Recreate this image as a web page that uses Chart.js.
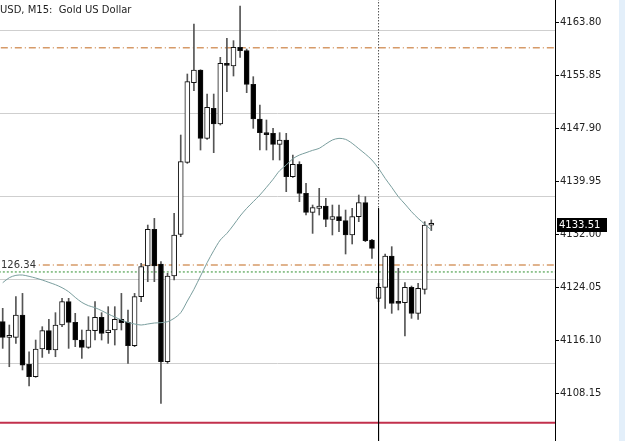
<!DOCTYPE html>
<html><head><meta charset="utf-8">
<script src="https://cdn.jsdelivr.net/npm/chart.js@4.4.1/dist/chart.umd.min.js"></script>
<style>html,body{margin:0;padding:0;background:#fff;overflow:hidden}#wrap{width:625px;height:441px;position:relative}</style>
</head><body><div id="wrap"><canvas id="c" width="625" height="441"></canvas></div>
<script>
const opens = [4118.95,4116.60,4116.60,4119.95,4112.55,4110.71,4114.85,4117.60,4114.70,4118.45,
4121.95,4118.85,4116.20,4115.10,4117.60,4119.60,4117.30,4117.70,4119.30,4118.85,
4115.35,4122.70,4127.29,4132.78,4127.59,4112.95,4125.79,4132.04,4142.82,4154.76,
4156.66,4146.42,4150.92,4148.57,4157.66,4157.26,4160.06,4159.56,4154.51,4149.32,
4147.27,4147.17,4145.52,4146.17,4140.68,4142.52,4138.18,4135.33,4135.93,4136.28,
4134.28,4134.68,4134.08,4131.94,4134.68,4136.78,4131.19,4122.45,4124.09,4128.79,
4121.84,4121.79,4124.09,4120.20,4123.79,4133.40];
const highs = [4120.95,4118.45,4122.70,4123.19,4114.45,4116.20,4118.20,4119.30,4120.30,4122.45,
4122.45,4120.20,4117.70,4119.70,4121.95,4120.30,4121.20,4121.20,4123.19,4120.70,
4123.19,4127.69,4133.43,4134.43,4127.94,4126.19,4135.18,4146.92,4156.06,4163.55,
4156.70,4153.06,4153.06,4158.56,4161.41,4161.06,4166.25,4159.80,4155.66,4151.42,
4149.17,4147.92,4147.27,4147.17,4143.92,4142.92,4139.68,4136.43,4138.93,4137.43,
4136.43,4136.43,4135.68,4135.93,4137.93,4137.68,4131.30,4124.69,4129.09,4130.19,
4126.94,4124.79,4124.29,4124.69,4133.93,4134.20];
const lows = [4114.95,4112.20,4115.70,4111.71,4109.31,4110.61,4113.60,4114.20,4113.70,4118.20,
4114.95,4115.20,4113.45,4114.95,4116.20,4116.20,4115.70,4115.45,4117.70,4112.70,
4115.20,4121.95,4124.94,4124.94,4106.71,4112.70,4125.19,4131.69,4142.67,4153.56,
4144.67,4146.27,4144.27,4148.42,4153.41,4155.76,4158.56,4153.26,4147.92,4144.67,
4144.67,4143.17,4143.17,4138.43,4140.58,4136.93,4134.93,4132.18,4134.93,4133.18,
4131.94,4132.43,4129.09,4130.59,4133.93,4130.94,4128.44,4121.95,4120.95,4120.20,
4120.70,4116.80,4119.45,4119.30,4123.09,4132.60];
const closes = [4116.60,4116.65,4119.95,4112.45,4110.71,4114.85,4117.60,4114.70,4118.45,4121.95,
4118.85,4116.20,4115.10,4117.70,4119.60,4117.20,4117.70,4119.30,4118.80,4115.35,
4122.70,4127.19,4132.78,4127.29,4112.95,4125.79,4131.94,4142.92,4154.91,4156.66,
4146.42,4151.07,4148.57,4157.66,4157.36,4160.06,4159.56,4154.51,4149.32,4147.27,
4146.97,4145.52,4146.17,4140.68,4142.52,4138.18,4135.33,4136.03,4136.28,4134.28,
4134.68,4134.08,4131.94,4134.68,4136.78,4131.09,4129.94,4124.09,4128.79,4121.70,
4121.70,4124.09,4120.20,4123.94,4133.43,4133.51];
const maValues = [4124.79,4125.54,4125.89,4125.94,4125.74,4125.49,4125.19,4124.84,4124.49,4124.04,
4123.44,4122.59,4121.84,4121.35,4121.05,4120.60,4120.10,4119.65,4119.20,4118.85,
4118.60,4118.45,4118.60,4118.75,4118.80,4118.95,4119.45,4120.30,4122.04,4123.79,
4125.79,4127.79,4129.59,4131.19,4132.18,4133.43,4134.78,4135.93,4136.93,4137.93,
4139.08,4140.28,4141.58,4142.42,4143.37,4143.92,4144.27,4144.62,4144.92,4145.57,
4146.17,4146.42,4146.27,4145.67,4144.87,4144.07,4143.17,4141.92,4140.43,4139.08,
4137.68,4136.58,4135.43,4134.43,4133.58,4132.68];
const yTicks = [4108.15,4116.10,4124.05,4132.00,4139.95,4147.90,4155.85,4163.80];
const gridLevels = [4112.71,4125.20,4137.68,4150.17,4162.65];
const dashDotLevels = [4160.00,4127.44];
const greenLevel = 4126.40;
const redLevel = 4103.81;
const cursorIndex = 57;
const cursorSplit = 4135.93;
const lastPrice = 4133.51;
const lineLabel = '126.34';
const titleText = 'USD, M15:  Gold US Dollar';

const Y_MIN = 4101.07, Y_MAX = 4167.15, X_MIN = -0.41, X_MAX = 83.76;

const idx = opens.map((_, i) => i);
const isBull = idx.map(i => closes[i] >= opens[i]);

function hLine(v, color, width, dash, order) {
  return { type: 'line', data: [{x: X_MIN - 2, y: v}, {x: X_MAX + 2, y: v}], borderColor: color,
    borderWidth: width, borderDash: dash, pointRadius: 0, order: order, clip: 0, yAxisID: 'y' };
}

const datasets = [
  hLine(dashDotLevels[0], '#d69a68', 1.5, [7,3,1,3], 10),
  hLine(dashDotLevels[1], '#d69a68', 1.5, [7,3,1,3], 10),
  hLine(greenLevel, '#2f8f2f', 1, [2,2], 10),
  hLine(redLevel, '#c2304c', 2, [], 10),
  { type: 'bar', data: idx.map(i => ({x: i, y: [lows[i], highs[i]]})), backgroundColor: '#555555',
    borderWidth: 0, barThickness: 1, grouped: false, order: 5, yAxisID: 'y' },
  { type: 'bar', data: idx.map(i => ({x: i, y: [opens[i], closes[i]]})),
    backgroundColor: idx.map(i => isBull[i] ? '#ffffff' : '#000000'), borderColor: '#111111',
    borderWidth: 1, borderSkipped: false, barThickness: 5, minBarLength: 2, grouped: false, order: 4, yAxisID: 'y' },
  { type: 'line', data: idx.map(i => ({x: i, y: maValues[i]})), borderColor: '#7a9e9e', borderWidth: 1,
    pointRadius: 0, tension: 0.3, order: 1, yAxisID: 'y' },
  { type: 'line', data: [{x: cursorIndex, y: Y_MAX + 1}, {x: cursorIndex, y: cursorSplit}], borderColor: '#000',
    borderWidth: 1, borderDash: [1,2], pointRadius: 0, order: 0, yAxisID: 'y' },
  { type: 'line', data: [{x: cursorIndex, y: cursorSplit}, {x: cursorIndex, y: Y_MIN - 1}], borderColor: '#000',
    borderWidth: 1, pointRadius: 0, order: 0, yAxisID: 'y' }
];

const decor = {
  id: 'decor',
  beforeDraw(chart) {
    const ctx = chart.ctx; ctx.save();
    ctx.fillStyle = '#ffffff'; ctx.fillRect(0, 0, 625, 441);
    ctx.fillStyle = '#e3effa'; ctx.fillRect(619, 0, 6, 441);
    ctx.restore();
  },
  afterDraw(chart) {
    const ctx = chart.ctx, y = chart.scales.y;
    ctx.save();
    ctx.font = '10px "DejaVu Sans"'; ctx.textBaseline = 'middle'; ctx.textAlign = 'left';
    ctx.fillStyle = '#1e1e1e';
    ctx.fillText(titleText, 0, 10);
    const ly = y.getPixelForValue(dashDotLevels[1]);
    ctx.fillStyle = '#ffffff'; ctx.fillRect(0, ly - 6, 36, 10);
    ctx.fillStyle = '#333333'; ctx.fillText(lineLabel, 1, ly);
    const py = y.getPixelForValue(lastPrice);
    ctx.fillStyle = '#000000'; ctx.fillRect(557, Math.round(py) - 7, 50, 14);
    ctx.fillStyle = '#ffffff'; ctx.fillText(lastPrice.toFixed(2), 559, Math.round(py));
    ctx.restore();
  }
};

new Chart(document.getElementById('c'), {
  type: 'bar',
  data: { datasets },
  options: {
    responsive: false, animation: false, devicePixelRatio: 1,
    layout: { padding: 0 },
    plugins: { legend: { display: false }, tooltip: { enabled: false }, title: { display: false } },
    scales: {
      x: { type: 'linear', min: X_MIN, max: X_MAX, display: false, offset: false },
      yg: { type: 'linear', position: 'left', min: Y_MIN, max: Y_MAX,
        afterBuildTicks: s => { s.ticks = gridLevels.map(v => ({value: v})); },
        afterFit: s => { s.width = 0; s.paddingTop = 0; s.paddingBottom = 0; },
        ticks: { display: false }, border: { display: false },
        grid: { color: '#cfcfcf', lineWidth: 1, drawTicks: false } },
      y: { type: 'linear', position: 'right', min: Y_MIN, max: Y_MAX,
        afterBuildTicks: s => { s.ticks = yTicks.map(v => ({value: v})); },
        afterFit: s => { s.width = 70; s.paddingTop = 0; s.paddingBottom = 0; },
        ticks: { autoSkip: false, padding: 1, color: '#222', font: { family: 'DejaVu Sans', size: 10 },
          callback: v => Number(v).toFixed(2) },
        border: { display: true, color: '#000', width: 1 },
        grid: { drawOnChartArea: false, tickLength: 4, tickColor: '#000', lineWidth: 1 } }
    }
  },
  plugins: [decor]
});
</script></body></html>
